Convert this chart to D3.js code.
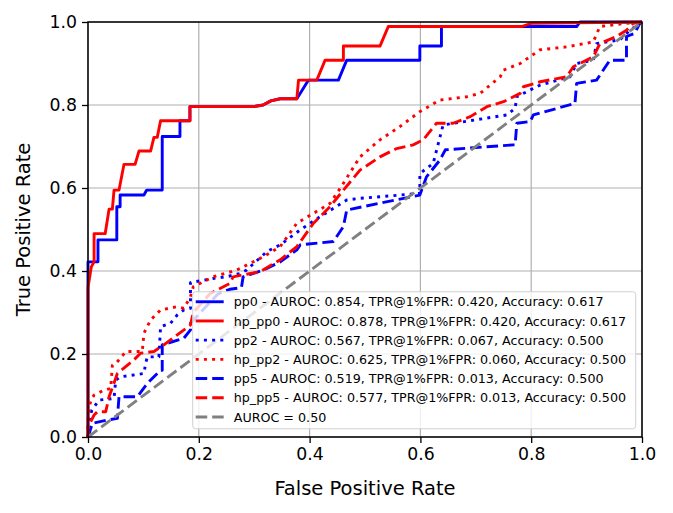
<!DOCTYPE html>
<html>
<head>
<meta charset="utf-8">
<script src="https://cdn.jsdelivr.net/npm/d3@7"></script>
<style>
  body { margin: 0; background: white; }
  svg { font-family: "DejaVu Sans", sans-serif; }
</style>
</head>
<body>
<div id="rocChart"></div>
<script>
// ROC curve data
const pp0Fpr = [0, 0, 0.018, 0.018, 0.052, 0.052, 0.058, 0.058, 0.101, 0.106, 0.134, 0.134, 0.166, 0.166, 0.184, 0.184, 0.298, 0.316, 0.330, 0.347, 0.377, 0.398, 0.452, 0.467, 0.599, 0.599, 0.638, 0.638, 0.882, 0.888, 1];
const pp0Tpr = [0, 0.422, 0.422, 0.475, 0.475, 0.555, 0.555, 0.583, 0.583, 0.595, 0.595, 0.724, 0.724, 0.762, 0.762, 0.796, 0.796, 0.800, 0.810, 0.815, 0.815, 0.860, 0.860, 0.908, 0.908, 0.942, 0.942, 0.989, 0.989, 1, 1];

const hpPp0Fpr = [0, 0, 0.006, 0.011, 0.011, 0.031, 0.038, 0.044, 0.047, 0.056, 0.065, 0.085, 0.092, 0.113, 0.119, 0.125, 0.131, 0.184, 0.184, 0.298, 0.316, 0.330, 0.347, 0.377, 0.380, 0.413, 0.428, 0.461, 0.461, 0.527, 0.542, 0.783, 0.800, 1];
const hpPp0Tpr = [0, 0.36, 0.41, 0.422, 0.49, 0.49, 0.549, 0.549, 0.595, 0.595, 0.657, 0.657, 0.689, 0.689, 0.722, 0.722, 0.762, 0.762, 0.796, 0.796, 0.800, 0.810, 0.815, 0.815, 0.860, 0.860, 0.908, 0.908, 0.942, 0.942, 0.989, 0.989, 0.997, 1];

const pp2Fpr = [0, 0, 0.007, 0.020, 0.047, 0.050, 0.059, 0.101, 0.104, 0.107, 0.128, 0.131, 0.149, 0.161, 0.173, 0.185, 0.185, 0.226, 0.250, 0.274, 0.286, 0.323, 0.347, 0.383, 0.419, 0.467, 0.491, 0.599, 0.599, 0.623, 0.641, 0.756, 0.771, 0.774, 0.816, 0.870, 0.882, 0.912, 0.918, 0.960, 0.978, 0.996, 1];
const pp2Tpr = [0, 0.03, 0.065, 0.089, 0.093, 0.137, 0.145, 0.153, 0.177, 0.193, 0.193, 0.266, 0.274, 0.294, 0.306, 0.310, 0.372, 0.382, 0.386, 0.394, 0.402, 0.447, 0.463, 0.499, 0.531, 0.571, 0.575, 0.587, 0.635, 0.659, 0.752, 0.776, 0.792, 0.820, 0.848, 0.868, 0.900, 0.908, 0.948, 0.957, 0.980, 0.997, 1];

const hpPp2Fpr = [0, 0, 0.005, 0.011, 0.029, 0.041, 0.044, 0.050, 0.059, 0.068, 0.098, 0.101, 0.113, 0.131, 0.161, 0.173, 0.185, 0.190, 0.226, 0.268, 0.316, 0.347, 0.377, 0.407, 0.437, 0.458, 0.491, 0.527, 0.563, 0.599, 0.635, 0.684, 0.708, 0.744, 0.750, 0.780, 0.816, 0.864, 0.912, 0.924, 0.972, 1];
const hpPp2Tpr = [0, 0.05, 0.089, 0.101, 0.113, 0.117, 0.173, 0.177, 0.190, 0.206, 0.206, 0.250, 0.282, 0.306, 0.314, 0.310, 0.338, 0.362, 0.386, 0.402, 0.434, 0.459, 0.515, 0.539, 0.563, 0.605, 0.675, 0.716, 0.748, 0.784, 0.812, 0.820, 0.828, 0.868, 0.884, 0.900, 0.933, 0.940, 0.952, 0.989, 0.997, 1];

const pp5Fpr = [0, 0.008, 0.035, 0.053, 0.056, 0.089, 0.107, 0.131, 0.134, 0.134, 0.173, 0.185, 0.185, 0.210, 0.235, 0.256, 0.277, 0.280, 0.316, 0.347, 0.377, 0.383, 0.443, 0.461, 0.467, 0.599, 0.611, 0.635, 0.645, 0.768, 0.771, 0.774, 0.798, 0.804, 0.879, 0.882, 0.918, 0.942, 0.972, 0.972, 0.987, 0.996, 1];
const pp5Tpr = [0, 0.033, 0.041, 0.045, 0.097, 0.097, 0.129, 0.161, 0.161, 0.222, 0.238, 0.258, 0.274, 0.310, 0.345, 0.356, 0.360, 0.386, 0.402, 0.422, 0.451, 0.463, 0.471, 0.507, 0.547, 0.583, 0.627, 0.667, 0.692, 0.704, 0.704, 0.756, 0.760, 0.776, 0.804, 0.852, 0.860, 0.908, 0.908, 0.965, 0.973, 0.997, 1];

const hpPp5Fpr = [0, 0, 0.005, 0.011, 0.017, 0.032, 0.038, 0.047, 0.053, 0.083, 0.095, 0.119, 0.137, 0.161, 0.185, 0.190, 0.220, 0.256, 0.262, 0.277, 0.310, 0.347, 0.377, 0.407, 0.437, 0.458, 0.491, 0.527, 0.557, 0.587, 0.605, 0.629, 0.659, 0.690, 0.720, 0.750, 0.780, 0.786, 0.816, 0.864, 0.876, 0.912, 0.924, 0.954, 0.972, 0.984, 1];
const hpPp5Tpr = [0, 0.03, 0.037, 0.053, 0.061, 0.061, 0.097, 0.130, 0.153, 0.186, 0.202, 0.206, 0.222, 0.246, 0.270, 0.300, 0.345, 0.370, 0.386, 0.390, 0.398, 0.427, 0.459, 0.515, 0.555, 0.590, 0.643, 0.675, 0.695, 0.704, 0.716, 0.756, 0.756, 0.772, 0.796, 0.808, 0.828, 0.844, 0.856, 0.868, 0.892, 0.916, 0.948, 0.965, 0.980, 0.997, 1];

const chanceFpr = [0, 1];
const chanceTpr = [0, 1];

const seriesLabels = [
  "pp0 - AUROC: 0.854, TPR@1%FPR: 0.420, Accuracy: 0.617",
  "hp_pp0 - AUROC: 0.878, TPR@1%FPR: 0.420, Accuracy: 0.617",
  "pp2 - AUROC: 0.567, TPR@1%FPR: 0.067, Accuracy: 0.500",
  "hp_pp2 - AUROC: 0.625, TPR@1%FPR: 0.060, Accuracy: 0.500",
  "pp5 - AUROC: 0.519, TPR@1%FPR: 0.013, Accuracy: 0.500",
  "hp_pp5 - AUROC: 0.577, TPR@1%FPR: 0.013, Accuracy: 0.500",
  "AUROC = 0.50"
];
const tickValues = [0, 0.2, 0.4, 0.6, 0.8, 1.0];

const series = [
  { fpr: pp0Fpr, tpr: pp0Tpr, color: "#0000ff", dash: null },
  { fpr: hpPp0Fpr, tpr: hpPp0Tpr, color: "#ff0000", dash: null },
  { fpr: pp2Fpr, tpr: pp2Tpr, color: "#0000ff", dash: "3,5.2" },
  { fpr: hpPp2Fpr, tpr: hpPp2Tpr, color: "#ff0000", dash: "3,5.2" },
  { fpr: pp5Fpr, tpr: pp5Tpr, color: "#0000ff", dash: "11.5,5" },
  { fpr: hpPp5Fpr, tpr: hpPp5Tpr, color: "#ff0000", dash: "11.5,5" },
  { fpr: chanceFpr, tpr: chanceTpr, color: "#808080", dash: "11.5,5" }
].map((s, i) => ({ ...s, label: seriesLabels[i], points: s.fpr.map((f, j) => [f, s.tpr[j]]) }));

const margin = { top: 22, right: 31, bottom: 76, left: 88 },
  width = 673 - margin.left - margin.right,
  height = 513 - margin.top - margin.bottom;

const svg = d3
  .select("#rocChart")
  .append("svg")
  .attr("width", 673)
  .attr("height", 513);

const g = svg.append("g").attr("transform", `translate(${margin.left},${margin.top})`);

const x = d3.scaleLinear().domain([0, 1]).range([0, width]);
const y = d3.scaleLinear().domain([0, 1]).range([height, 0]);

// grid
g.append("g")
  .selectAll("line")
  .data(tickValues)
  .enter()
  .append("line")
  .attr("x1", (d) => x(d))
  .attr("x2", (d) => x(d))
  .attr("y1", 0)
  .attr("y2", height)
  .attr("stroke", "#b0b0b0")
  .attr("stroke-width", 1.2);
g.append("g")
  .selectAll("line")
  .data(tickValues)
  .enter()
  .append("line")
  .attr("y1", (d) => y(d))
  .attr("y2", (d) => y(d))
  .attr("x1", 0)
  .attr("x2", width)
  .attr("stroke", "#b0b0b0")
  .attr("stroke-width", 1.2);

// curves
const valueLine = d3
  .line()
  .x((d) => x(d[0]))
  .y((d) => y(d[1]));

const plotArea = g.append("g");
series.forEach((s) => {
  plotArea
    .append("path")
    .datum(s.points)
    .attr("fill", "none")
    .attr("stroke", s.color)
    .attr("stroke-width", 2.9)
    .attr("stroke-linejoin", "round")
    .attr("stroke-dasharray", s.dash)
    .attr("d", valueLine);
});

// axes
const xAxis = g
  .append("g")
  .attr("transform", `translate(0,${height})`)
  .call(d3.axisBottom(x).tickValues(tickValues).tickFormat(d3.format(".1f")).tickSize(6).tickPadding(5));
const yAxis = g
  .append("g")
  .call(d3.axisLeft(y).tickValues(tickValues).tickFormat(d3.format(".1f")).tickSize(6).tickPadding(5));
[xAxis, yAxis].forEach((a) => {
  a.select(".domain").remove();
  a.selectAll("line").attr("stroke", "#000").attr("stroke-width", 1.3);
  a.selectAll("text").attr("font-size", 17.3).attr("fill", "#000").attr("font-family", "DejaVu Sans");
});

// frame
g.append("rect")
  .attr("x", 0)
  .attr("y", 0)
  .attr("width", width)
  .attr("height", height)
  .attr("fill", "none")
  .attr("stroke", "#000")
  .attr("stroke-width", 1.5);

// axis labels
svg.append("text")
  .attr("x", margin.left + width / 2)
  .attr("y", 495)
  .attr("text-anchor", "middle")
  .attr("font-size", 19.5)
  .text("False Positive Rate");
svg.append("text")
  .attr("transform", `translate(30,${margin.top + height / 2}) rotate(-90)`)
  .attr("text-anchor", "middle")
  .attr("font-size", 19.5)
  .text("True Positive Rate");

// legend
const legend = g.append("g").attr("transform", `translate(${x(0.189)},${y(0.350)})`);
const rowH = 19.2;
legend.append("rect")
  .attr("width", 443)
  .attr("height", 137)
  .attr("rx", 3)
  .attr("fill", "white")
  .attr("fill-opacity", 0.8)
  .attr("stroke", "#d0d0d0")
  .attr("stroke-width", 1);
const rows = legend
  .selectAll(".row")
  .data(series)
  .enter()
  .append("g")
  .attr("transform", (d, i) => `translate(0,${10 + i * rowH})`);
rows.append("line")
  .attr("x1", 3)
  .attr("x2", 31)
  .attr("stroke", (d) => d.color)
  .attr("stroke-width", 2.9)
  .attr("stroke-dasharray", (d) => d.dash);
rows.append("text")
  .attr("x", 41)
  .attr("dy", "0.36em")
  .attr("font-size", 12.7)
  .attr("fill", "#000")
  .text((d) => d.label);
</script>
</body>
</html>
